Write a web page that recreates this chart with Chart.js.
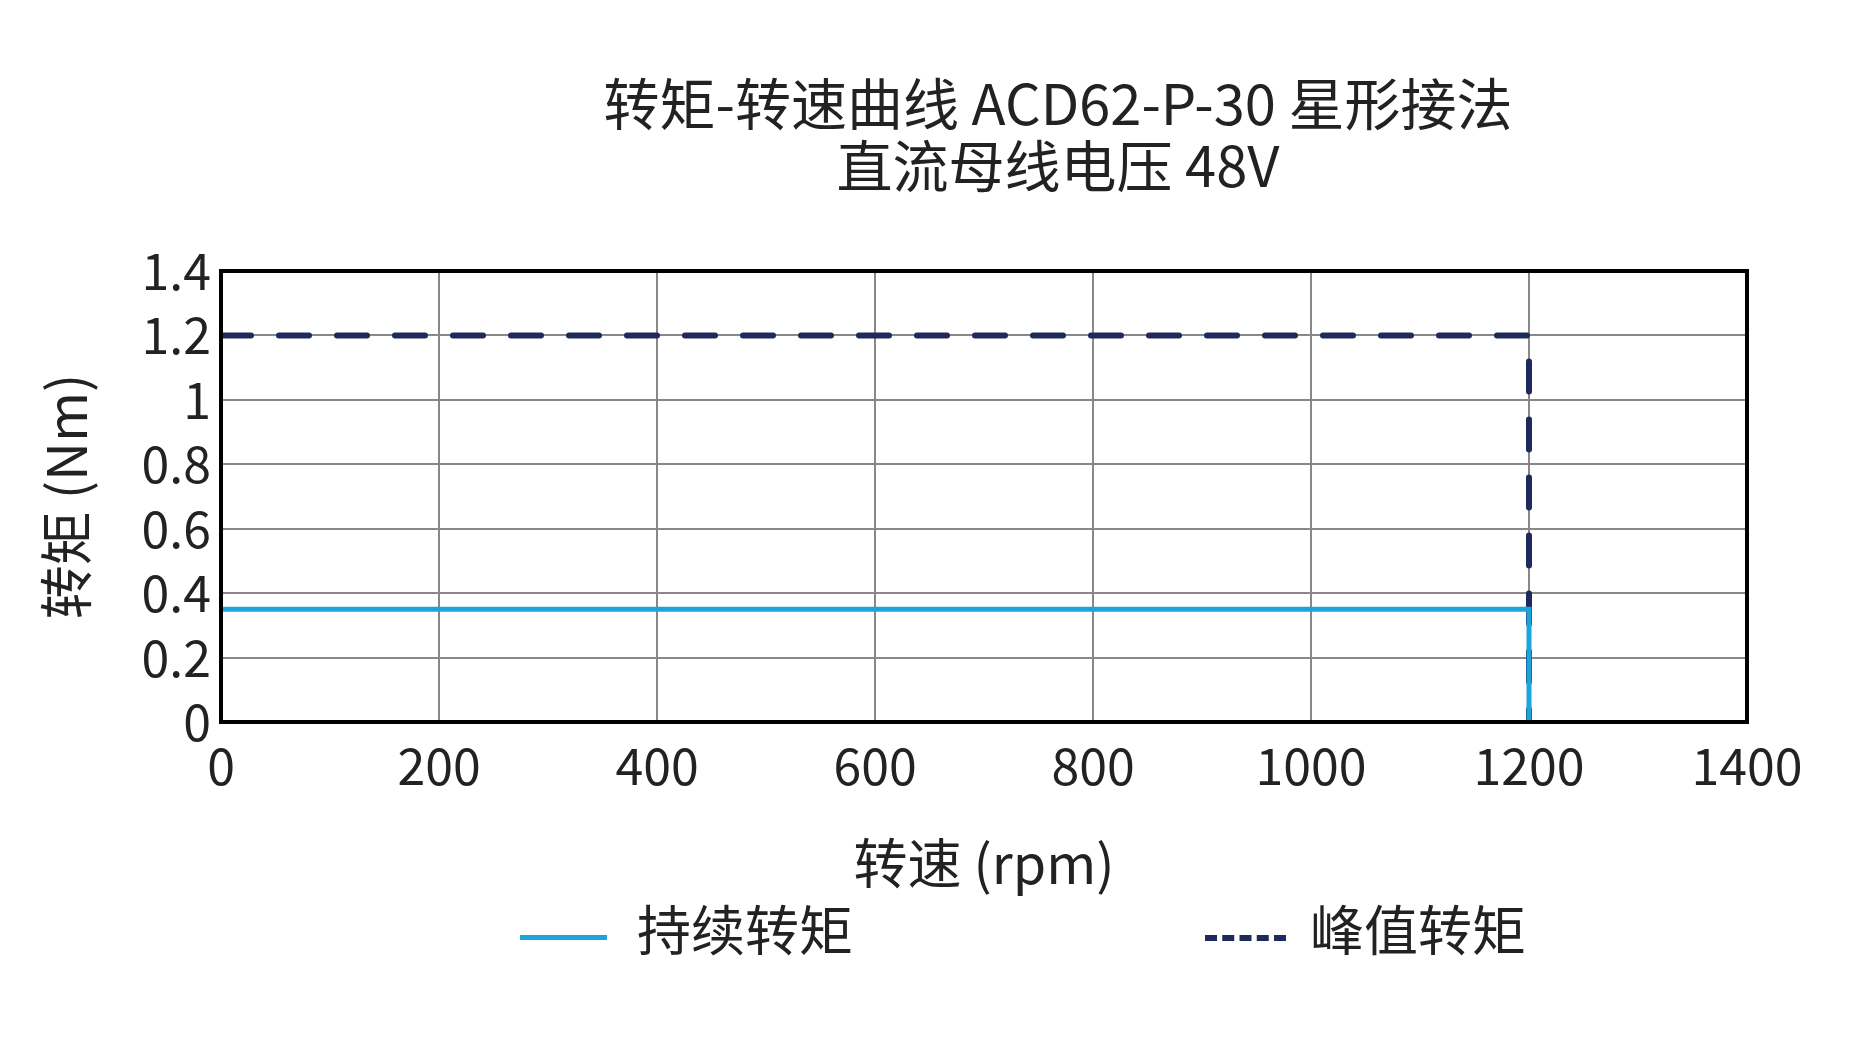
<!DOCTYPE html>
<html><head><meta charset="utf-8">
<script src="https://cdn.jsdelivr.net/npm/chart.js@4"></script>
<style>
html,body{margin:0;padding:0;background:#fff;}
#wrap{position:relative;width:1856px;height:1042px;font-family:"Noto Sans CJK SC","Noto Sans",sans-serif;color:#222;}
.t{position:absolute;left:0;width:1856px;text-align:center;font-size:56px;line-height:62px;}
.lg{position:absolute;top:897px;font-size:54px;line-height:62px;}
.sw{position:absolute;top:935px;height:0;}
</style></head><body>
<div id="wrap">
<canvas id="c" width="1856" height="1042"></canvas>
<div class="t" style="top:70px;left:130px">转矩-转速曲线 ACD62-P-30 星形接法</div>
<div class="t" style="top:132px;left:130px">直流母线电压 48V</div>
<div class="sw" style="left:520px;width:87px;border-top:5px solid #1ca5dc"></div>
<div class="lg" style="left:637px">持续转矩</div>
<div class="sw" style="left:1205px;width:81px;border-top:6px dashed #1e2a5e"></div>
<div class="lg" style="left:1310px">峰值转矩</div>
</div>
<script>
const speeds=[0,1200,1200];
const continuousTorque=[0.35,0.35,0];
const peakTorque=[1.2,1.2,0];
const xTicks=[0,200,400,600,800,1000,1200,1400];
const yTicks=[0,0.2,0.4,0.6,0.8,1,1.2,1.4];
const pts=a=>speeds.map((s,i)=>({x:s,y:a[i]}));
const font={family:'"Noto Sans CJK SC","Noto Sans",sans-serif',size:50};
const tfont={family:'"Noto Sans CJK SC","Noto Sans",sans-serif',size:54};
new Chart(document.getElementById('c'),{
 type:'line',
 data:{datasets:[
  {label:'持续转矩',data:pts(continuousTorque),borderColor:'#1ca5dc',borderWidth:5,pointRadius:0,tension:0},
  {label:'峰值转矩',data:pts(peakTorque),borderColor:'#1e2a5e',borderWidth:6,borderDash:[30,28],borderCapStyle:'round',pointRadius:0,tension:0}
 ]},
 options:{responsive:false,animation:false,
  layout:{padding:{left:30,right:109,top:271,bottom:142}},
  plugins:{legend:{display:false},title:{display:false},tooltip:{enabled:false}},
  scales:{
   x:{type:'linear',min:0,max:1400,
     afterBuildTicks:s=>{s.ticks=xTicks.map(v=>({value:v}));},
     afterFit:s=>{s.height=178;},
     grid:{color:'#888',lineWidth:2,drawTicks:false},border:{color:'#000',width:4},
     ticks:{font,color:'#222',padding:14,maxRotation:0,callback:v=>String(v)},
     title:{display:true,text:'转速 (rpm)',font:tfont,color:'#222',padding:{top:16}}},
   y:{min:0,max:1.4,
     afterBuildTicks:s=>{s.ticks=yTicks.map(v=>({value:v}));},
     afterFit:s=>{s.width=191;},
     grid:{color:'#888',lineWidth:2,drawTicks:false},border:{color:'#000',width:4},
     ticks:{font,color:'#222',padding:10,callback:v=>String(v)},
     title:{display:true,text:'转矩 (Nm)',font:tfont,color:'#222',padding:{bottom:0}}}
  }},
 plugins:[{id:'frame',afterDraw(ch){const a=ch.chartArea,c=ch.ctx;c.save();c.strokeStyle='#000';c.lineWidth=4;c.strokeRect(a.left,a.top,a.right-a.left,a.bottom-a.top);c.restore();}}]
});
</script></body></html>
